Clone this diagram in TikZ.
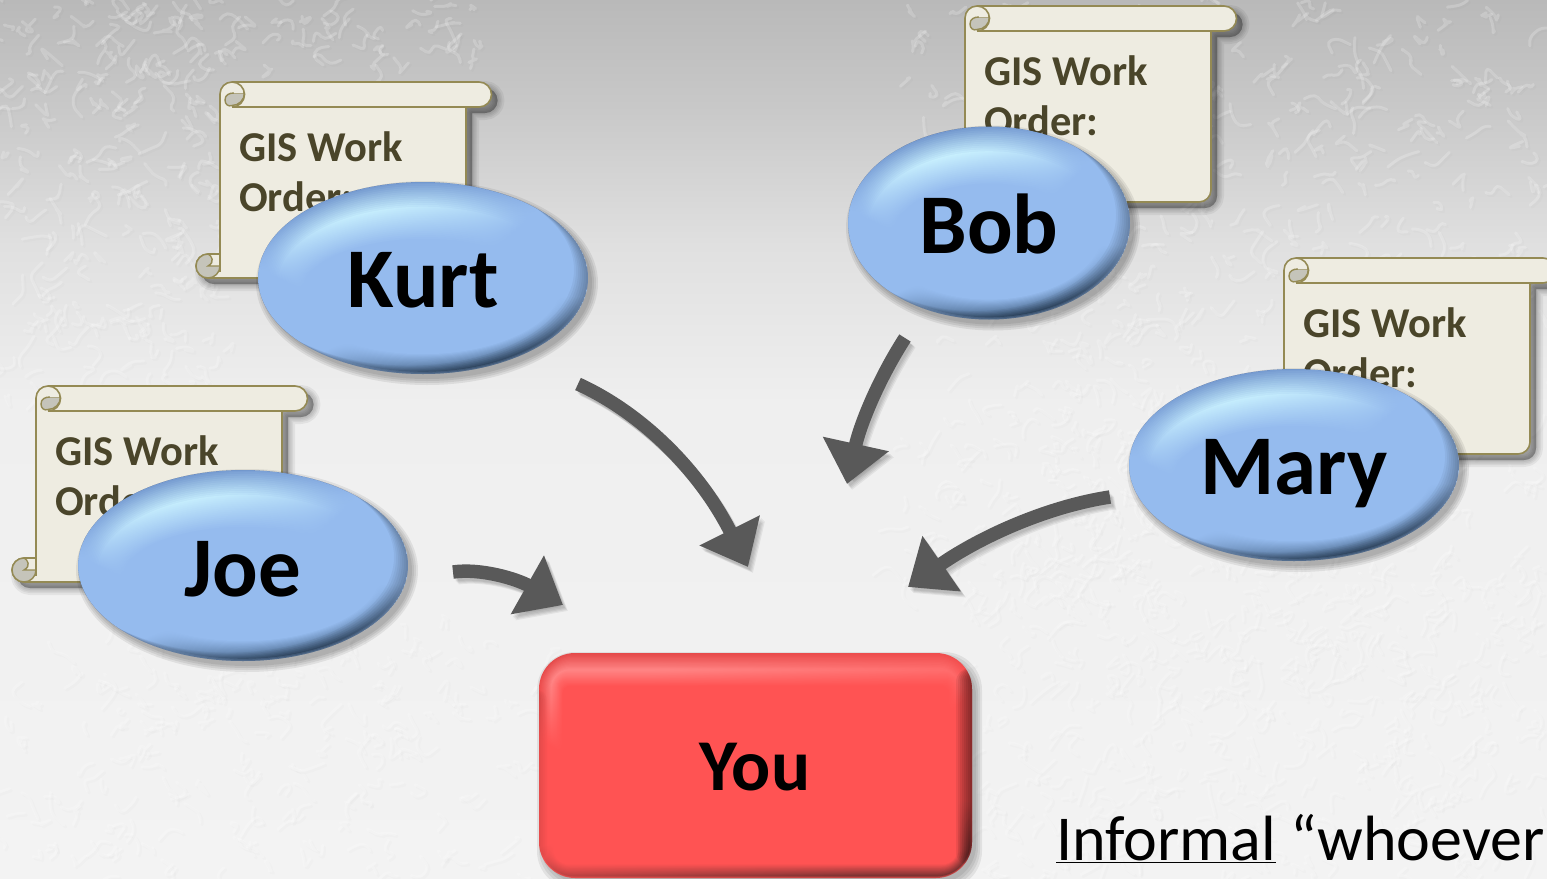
\documentclass[tikz,border=0pt]{standalone}
\usepackage{fontspec}
\setmainfont{Carlito}
\usetikzlibrary{arrows.meta}
\definecolor{bgA}{HTML}{F3F3F3}\definecolor{bgB}{HTML}{EFEFEF}\definecolor{bgC}{HTML}{E0E0E0}
\definecolor{bgD}{HTML}{C8C8C8}\definecolor{bgE}{HTML}{B9B9B9}
\definecolor{scrollfill}{HTML}{EEECE1}\definecolor{scrollline}{HTML}{948A54}
\definecolor{scrollfold}{HTML}{C5C4BA}\definecolor{scrolltext}{HTML}{4A452A}
\definecolor{arrowgray}{HTML}{595959}
\definecolor{blbase}{HTML}{95BBEE}\definecolor{blrim}{HTML}{7297CC}\definecolor{blhi}{HTML}{CCF4FF}\definecolor{bldark}{HTML}{34506F}
\definecolor{rdbase}{HTML}{FF5353}\definecolor{rdrim}{HTML}{E54A4A}\definecolor{rdhi}{HTML}{FF8585}\definecolor{rddark}{HTML}{7A3232}
\colorlet{glt}{blbase}\colorlet{glb}{blbase}\colorlet{glm}{blbase}
\pgfdeclareverticalshading{bgshade}{100bp}{color(0bp)=(bgA);color(25bp)=(bgA);color(52bp)=(bgB);color(61bp)=(bgC);color(69bp)=(bgD);color(75bp)=(bgE);color(100bp)=(bgE)}
\pgfdeclareverticalshading[glt,glb,glm]{glossy}{100bp}{color(0bp)=(glb);color(25bp)=(glb);color(38bp)=(glm);color(60bp)=(glm);color(75bp)=(glt);color(100bp)=(glt)}
\tikzset{
  x=1pt,y=-1pt,
  scrollbody/.style={fill=scrollfill,draw=scrollline,line width=1.6pt,line join=round},
  scrollfoldpart/.style={fill=scrollfold,draw=scrollline,line width=1.4pt,line join=round},
  scrolllabel/.style={anchor=base west,inner sep=0pt,text=scrolltext,font=\fontsize{42.5}{42.5}\selectfont\bfseries},
  glosslabel/.style={anchor=base,inner sep=0pt,text=black,font=\fontsize{85}{85}\selectfont\bfseries},
  youlabel/.style={anchor=base,inner sep=0pt,text=black,font=\fontsize{73}{73}\selectfont\bfseries},
  notelabel/.style={anchor=base west,inner sep=0pt,text=black,font=\fontsize{64}{64}\selectfont},
  flow/.style={draw=arrowgray,line width=13.5pt,-{Triangle[length=41pt,width=65pt,fill=arrowgray]}},
  flowshadow/.style={draw=black,line width=13pt,opacity=.06,-{Triangle[length=41pt,width=65pt,fill=black]}},
}
\def\scrollpath{(12,0) -- (259,0) arc[start angle=-90,end angle=90,radius=12.5] -- (246,25) -- (246,184) arc[start angle=0,end angle=90,radius=12] -- (-12,196) arc[start angle=90,end angle=270,radius=12] -- (0,172) -- (0,12) arc[start angle=180,end angle=270,radius=12] -- cycle}
\newcommand\gisscroll[3]{%
  \begin{scope}[shift={(#2,#3)}]
    \begin{scope}[shift={(6,6)}]
      \foreach \ww in {14,10,7,4,1}{\path[fill=black,draw=black,fill opacity=.07,draw opacity=.055,line width=\ww pt,line join=round] \scrollpath;}
    \end{scope}
    \path[scrollbody] \scrollpath;
    \draw[scrollbody,fill=none] (12,25) -- (246,25);
    \path[scrollfoldpart] (5,18) .. controls (5,13) and (9,11) .. (14,11) -- (24.5,11) arc[start angle=0,end angle=90,radius=12.5] .. controls (8,25) and (5,22) .. (5,18) -- cycle;
    \path[fill=scrollfill] (14,2) arc[start angle=-90,end angle=0,radius=9] -- (14,11) -- cycle;
    \draw[scrollline,line width=1.6pt] (12,0) arc[start angle=-90,end angle=90,radius=12.5];
    \path[scrollfoldpart] (-12,184) circle[radius=12];
    \path[fill=scrollfill] (-12,173) -- (-1,173) -- (-1,184) -- (-12,184) .. controls (-8,184) and (-6,180) .. (-8,177) .. controls (-9,175) and (-11,174) .. (-12,173) -- cycle;
    \draw[scrollline,line width=1.4pt] (-12,172) .. controls (-8,174) and (-5,180) .. (-12,184) -- (0,184);
    \draw[scrollline,line width=1.6pt] (0,172) -- (0,190);
    \node[scrolllabel] (#1a) at (19,79.5) {GIS Work};
    \node[scrolllabel] (#1b) at (19,129.5) {Order:};
  \end{scope}}
\newcommand\glossy[6]{%
  \foreach \ww in {12,8,4,0}{\fill[black,opacity=.075] ({#2+4},{#3+5}) ellipse[x radius={#4+\ww/2},y radius={#5+\ww/2}];}
  \foreach \kk in {0,...,30}{%
    \pgfmathsetmacro\pA{min(100,\kk*100/13)}
    \pgfmathsetmacro\pB{max(0,(\kk-13)*100/17)}
    \pgfmathsetmacro\pC{\kk<2?55-\kk*27:min(100,(\kk-2)*100/16)}
    \colorlet{glt}{blhi!\pA!blrim}\colorlet{glt}{blbase!\pB!glt}
    \colorlet{glb}{blbase!\pC!bldark}\colorlet{glm}{blbase}
    \shade[shading=glossy,shading angle=12] (#2,{#3+\kk*.4}) ellipse[x radius={#4-\kk*1.5},y radius={#5-\kk*1.5}];
  }
  \begin{scope}
    \clip (#2,#3) ellipse[x radius=#4,y radius=#5];
    \foreach \dd in {2,4,...,14}{
      \fill[black,opacity=.045,even odd rule] (#2,#3) ellipse[x radius=#4,y radius=#5] ({#2-\dd},{#3-\dd*.6}) ellipse[x radius=#4,y radius=#5];}
  \end{scope}
  \node[glosslabel] (#1) at (#2,#6) {#1};}
\begin{document}
\begin{tikzpicture}
\useasboundingbox (0,0) rectangle (1547,878);
\clip (0,0) rectangle (1547,878);
\shade[shading=bgshade] (0,0) rectangle (1547,878);
% relief texture
\pgfmathsetseed{11}
\foreach \rx/\ry/\rw/\rh/\rn in {0/0/230/420/220,100/0/380/70/60,900/0/647/120/90,1050/100/497/600/400,0/640/560/238/170,120/620/350/120/50,960/560/587/318/380,900/380/260/230/100,950/230/200/120/40}{
  \foreach \nn in {1,...,\rn}{
    \pgfmathsetmacro\xa{\rx+rnd*\rw}\pgfmathsetmacro\ya{\ry+rnd*\rh}
    \pgfmathsetmacro\xb{\xa+(rnd-.5)*26}\pgfmathsetmacro\yb{\ya+(rnd-.5)*26}
    \pgfmathsetmacro\xc{\xb+(rnd-.5)*26}\pgfmathsetmacro\yc{\yb+(rnd-.5)*26}
    \pgfmathsetmacro\xd{\xc+(rnd-.5)*26}\pgfmathsetmacro\yd{\yc+(rnd-.5)*26}
    \draw[black,opacity=.012,line width=3pt,line join=round,line cap=round,rounded corners=5pt] (\xa+2,\ya+2) -- (\xb+2,\yb+2) -- (\xc+2,\yc+2) -- (\xd+2,\yd+2);
    \draw[white,opacity=.2,line width=3pt,line join=round,line cap=round,rounded corners=5pt] (\xa,\ya) -- (\xb,\yb) -- (\xc,\yc) -- (\xd,\yd);
  }
}
% scrolls
\gisscroll{sk}{220}{82}
\gisscroll{sb}{965}{6}
\gisscroll{sm}{1284}{258}
\gisscroll{sj}{36}{386}
% ellipses
\glossy{Kurt}{423}{278}{165}{96}{307}
\glossy{Bob}{989}{223}{141}{96.5}{253.5}
\glossy{Mary}{1294}{465}{165}{96}{494}
\glossy{Joe}{243}{565.5}{165}{95.5}{596.5}
% You box
\foreach \ww in {12,8,4,0}{\fill[black,opacity=.07,rounded corners=38pt] (539+4-\ww/2,653+5-\ww/2) rectangle (972+4+\ww/2,878+5+\ww/2);}
\foreach \kk in {0,...,26}{%
  \pgfmathsetmacro\pA{min(100,\kk*100/13)}
  \pgfmathsetmacro\pB{max(0,(\kk-13)*100/13)}
  \pgfmathsetmacro\pC{\kk<2?60-\kk*30:min(100,(\kk-2)*100/14)}
  \colorlet{glt}{rdhi!\pA!rdrim}\colorlet{glt}{rdbase!\pB!glt}
  \colorlet{glb}{rdbase!\pC!rddark}\colorlet{glm}{rdbase}
  \pgfmathsetmacro\rr{max(8,36-\kk*1.3)}
  \shade[shading=glossy,shading angle=6,rounded corners=\rr pt] ({539+\kk*.9},{653+\kk*1.25}) rectangle ({972-\kk*.9},{878-\kk*.85});
}
\begin{scope}
  \clip[rounded corners=36pt] (539,653) rectangle (972,878);
  \foreach \dd in {2,4,...,16}{\fill[black,opacity=.07,rounded corners=14pt] ({972-\dd},668) rectangle (990,866);}
  \foreach \dd in {2,4,6,8}{\fill[black,opacity=.025,rounded corners=10pt] (530,690) rectangle ({539+\dd},860);}
\end{scope}
\node[youlabel] (You) at (755,790) {You};
% connectors
\coordinate (kurtout) at (578,384);\coordinate (kurta) at (646,415);\coordinate (kurtb) at (702,475);\coordinate (kurtin) at (748,567);
\coordinate (bobout) at (905,338);\coordinate (boba) at (878,380);\coordinate (bobb) at (860,425);\coordinate (bobin) at (847,484);
\coordinate (maryout) at (1110,497);\coordinate (marya) at (1050,506);\coordinate (maryb) at (983,535);\coordinate (maryin) at (908,587);
\coordinate (joeout) at (453,572);\coordinate (joea) at (481,568);\coordinate (joeb) at (517,579);\coordinate (joein) at (563,605);
\foreach \sx/\sy in {2/3,3/4,4/5,5/6}{
  \begin{scope}[transform canvas={xshift=\sx pt,yshift=-\sy pt}]
    \draw[flowshadow] (kurtout) .. controls (kurta) and (kurtb) .. (kurtin);
    \draw[flowshadow] (bobout) .. controls (boba) and (bobb) .. (bobin);
    \draw[flowshadow] (maryout) .. controls (marya) and (maryb) .. (maryin);
    \draw[flowshadow] (joeout) .. controls (joea) and (joeb) .. (joein);
  \end{scope}
}
\draw[flow] (kurtout) .. controls (kurta) and (kurtb) .. (kurtin);
\draw[flow] (bobout) .. controls (boba) and (bobb) .. (bobin);
\draw[flow] (maryout) .. controls (marya) and (maryb) .. (maryin);
\draw[flow] (joeout) .. controls (joea) and (joeb) .. (joein);
\node[notelabel] (note) at (1056,860) {\underline{Informal} “whoever};
\end{tikzpicture}
\end{document}
